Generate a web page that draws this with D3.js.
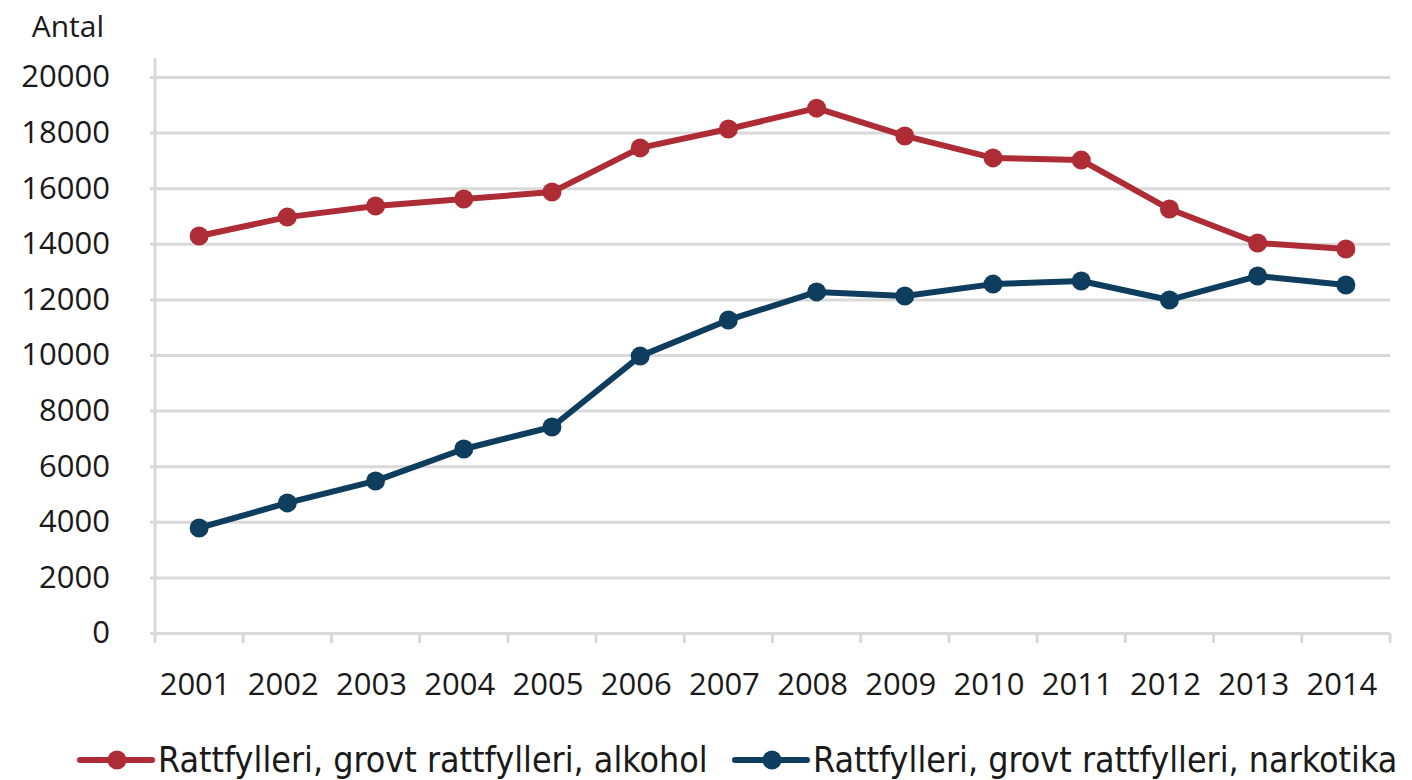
<!DOCTYPE html>
<html>
<head>
<meta charset="utf-8">
<script src="https://cdn.jsdelivr.net/npm/d3@7"></script>
<style>
  body { margin: 0; background: #fff; }
  svg text { font-family: "Open Sans", sans-serif; fill: #1a1a1a; }
</style>
</head>
<body>
<svg id="chart" width="1412" height="780"></svg>
<script>
const years = ['2001','2002','2003','2004','2005','2006','2007','2008','2009','2010','2011','2012','2013','2014'];
const alkohol = [14280, 14960, 15360, 15610, 15860, 17450, 18130, 18880, 17880, 17090, 17010, 15250, 14030, 13810];
const narkotika = [3780, 4680, 5470, 6620, 7410, 9960, 11260, 12270, 12120, 12550, 12660, 11980, 12840, 12520];
const yTicks = [0, 2000, 4000, 6000, 8000, 10000, 12000, 14000, 16000, 18000, 20000];
const seriesNames = ['Rattfylleri, grovt rattfylleri, alkohol', 'Rattfylleri, grovt rattfylleri, narkotika'];
const colors = ['#ae2c36', '#0f3d5e'];

const mLeft = 155, mRight = 1390, mTop = 77, mBottom = 633;
const svg = d3.select('#chart');

const x = d3.scaleBand().domain(years).range([mLeft, mRight]);
const y = d3.scaleLinear().domain([0, 20000]).range([mBottom, mTop]);

// y axis + gridlines
const yAxis = svg.append('g').attr('transform', `translate(${mLeft},0)`)
  .call(d3.axisLeft(y).tickValues(yTicks).tickSize(-(mRight - mLeft)).tickPadding(45).tickFormat(d => d));
yAxis.select('.domain').remove();
yAxis.selectAll('.tick line').attr('x1', -5).attr('stroke', '#d9d9d9').attr('stroke-width', 3);
yAxis.selectAll('.tick text').attr('font-size', 31).attr('font-family', 'Open Sans').attr('fill', '#1a1a1a');

// vertical axis line
svg.append('line')
  .attr('x1', mLeft).attr('x2', mLeft).attr('y1', mTop - 19).attr('y2', mBottom + 10)
  .attr('stroke', '#d9d9d9').attr('stroke-width', 3);

// x axis labels
const xAxis = svg.append('g').attr('transform', `translate(-4,${mBottom})`)
  .call(d3.axisBottom(x).tickSize(0).tickPadding(40));
xAxis.select('.domain').remove();
xAxis.selectAll('.tick text').attr('font-size', 31).attr('font-family', 'Open Sans').attr('fill', '#1a1a1a');

// x tick marks at category boundaries
const bounds = years.map(d => x(d)).concat([x(years[years.length - 1]) + x.bandwidth()]);
svg.append('g').selectAll('line').data(bounds.slice(1)).join('line')
  .attr('x1', d => d).attr('x2', d => d).attr('y1', mBottom).attr('y2', mBottom + 10)
  .attr('stroke', '#d9d9d9').attr('stroke-width', 3);

// Antal
svg.append('text').attr('x', 104).attr('y', 37).attr('text-anchor', 'end')
  .attr('font-size', 30).text('Antal');

// lines
const line = d3.line().x((d, i) => x(years[i]) + x.bandwidth() / 2).y(d => y(d));
[alkohol, narkotika].forEach((vals, k) => {
  svg.append('path').datum(vals).attr('d', line)
    .attr('fill', 'none').attr('stroke', colors[k]).attr('stroke-width', 6).attr('stroke-linejoin', 'round');
  svg.append('g').selectAll('circle').data(vals).join('circle')
    .attr('cx', (d, i) => x(years[i]) + x.bandwidth() / 2).attr('cy', d => y(d))
    .attr('r', 9.5).attr('fill', colors[k]);
});

// legend
const legendX = [80, 735];
seriesNames.forEach((name, k) => {
  const g = svg.append('g').attr('transform', `translate(${legendX[k]},760)`);
  g.append('line').attr('x1', 0).attr('x2', 72).attr('y1', 0).attr('y2', 0)
    .attr('stroke', colors[k]).attr('stroke-width', 6).attr('stroke-linecap', 'round');
  g.append('circle').attr('cx', 37).attr('cy', 0).attr('r', 9.5).attr('fill', colors[k]);
  g.append('text').attr('x', 78).attr('y', 12)
    .style('font-family', '"Liberation Sans Narrow", "DejaVu Sans Condensed", sans-serif')
    .attr('font-size', 35.5).text(name);
});
</script>
</body>
</html>
